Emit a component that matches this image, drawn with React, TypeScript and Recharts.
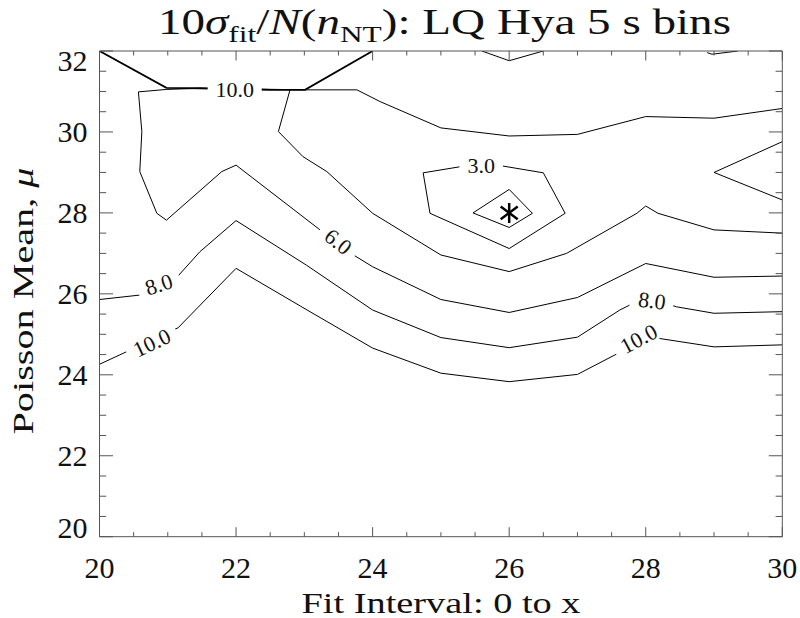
import { ComposedChart, Line, Scatter, XAxis, YAxis } from 'recharts';

// tick values (0.5 minor steps, labels on the even numbers)
const xTicks = [20, 20.5, 21, 21.5, 22, 22.5, 23, 23.5, 24, 24.5, 25, 25.5, 26, 26.5, 27, 27.5, 28, 28.5, 29, 29.5, 30];
const yTicks = [20, 20.5, 21, 21.5, 22, 22.5, 23, 23.5, 24, 24.5, 25, 25.5, 26, 26.5, 27, 27.5, 28, 28.5, 29, 29.5, 30, 30.5, 31, 31.5, 32];
const xMajorTicks = [20, 22, 24, 26, 28, 30];
const yMajorTicks = [20, 22, 24, 26, 28, 30, 32];

// contour polylines (x = fit interval, y = Poisson mean)
const contour10Low = [
  { x: 20, y: 24.26 }, { x: 21.15, y: 25.16 }, { x: 22, y: 26.63 }, { x: 22.94, y: 25.7 },
  { x: 24, y: 24.66 }, { x: 25, y: 24.04 }, { x: 26, y: 23.83 }, { x: 27, y: 24.01 },
  { x: 27.57, y: 24.51 }, { x: 28, y: 24.95 }, { x: 29, y: 24.69 }, { x: 30, y: 24.74 },
];
const contour8 = [
  { x: 20, y: 25.86 }, { x: 20.59, y: 25.97 }, { x: 21, y: 26.16 }, { x: 21.47, y: 27.04 },
  { x: 22, y: 27.81 }, { x: 23.03, y: 26.71 }, { x: 24, y: 25.6 }, { x: 25, y: 24.92 },
  { x: 26, y: 24.67 }, { x: 27, y: 24.93 }, { x: 27.62, y: 25.6 }, { x: 28, y: 25.92 },
  { x: 28.45, y: 25.68 }, { x: 29, y: 25.52 }, { x: 30, y: 25.56 },
];
const contour6 = [
  { x: 30, y: 30.58 }, { x: 29, y: 30.34 }, { x: 28, y: 30.38 }, { x: 27, y: 29.94 },
  { x: 26, y: 29.9 }, { x: 25, y: 30.1 }, { x: 24.11, y: 30.75 }, { x: 23.77, y: 31.04 },
  { x: 23, y: 31.04 }, { x: 21.47, y: 31.08 }, { x: 20.98, y: 31.05 }, { x: 20.57, y: 30.99 },
  { x: 20.62, y: 30.01 }, { x: 20.59, y: 29.02 }, { x: 20.84, y: 27.99 }, { x: 20.98, y: 27.82 },
  { x: 21.79, y: 29.02 }, { x: 22, y: 29.18 }, { x: 23.23, y: 27.58 }, { x: 23.72, y: 26.96 },
  { x: 24, y: 26.67 }, { x: 25, y: 25.86 }, { x: 26, y: 25.54 }, { x: 27, y: 25.91 },
  { x: 28, y: 26.75 }, { x: 29, y: 26.41 }, { x: 30, y: 26.44 },
];
const contour4 = [
  { x: 22.79, y: 31.04 }, { x: 22.62, y: 30.01 }, { x: 22.98, y: 29.39 }, { x: 23.33, y: 29.02 },
  { x: 24, y: 27.99 }, { x: 25, y: 26.96 }, { x: 26, y: 26.55 }, { x: 26.84, y: 27.0 },
  { x: 27.87, y: 27.99 }, { x: 28, y: 28.17 }, { x: 28.18, y: 27.99 }, { x: 29, y: 27.58 },
  { x: 30, y: 27.5 },
];
const contour3 = [
  { x: 24.74, y: 28.99 }, { x: 25.28, y: 29.14 }, { x: 25.9, y: 29.16 }, { x: 26.5, y: 28.99 },
  { x: 26.82, y: 27.99 }, { x: 26, y: 27.12 }, { x: 24.84, y: 27.99 }, { x: 24.74, y: 28.99 },
];
const contourInner = [
  { x: 26, y: 28.58 }, { x: 26.34, y: 27.99 }, { x: 26, y: 27.64 }, { x: 25.47, y: 28 }, { x: 26, y: 28.58 },
];
const contourRightV = [{ x: 30, y: 29.76 }, { x: 29, y: 29 }, { x: 30, y: 28.32 }];
const contourTopV = [{ x: 25.6, y: 32 }, { x: 26, y: 31.76 }, { x: 26.5, y: 32 }];
const contourTopRight = [{ x: 28.9, y: 31.96 }, { x: 28.97, y: 31.92 }, { x: 29.35, y: 32 }];
const contour10Top = [
  { x: 20, y: 32 }, { x: 20.98, y: 31.09 }, { x: 21.47, y: 31.08 }, { x: 22.5, y: 31.04 },
  { x: 23.01, y: 31.04 }, { x: 24, y: 32 },
];

const contourLabels = [
  { x: 21.98, y: 31.04, text: '10.0' },
  { x: 25.59, y: 29.16, text: '3.0' },
  { x: 23.49, y: 27.28, text: '6.0' },
  { x: 20.87, y: 26.22, text: '8.0' },
  { x: 20.77, y: 24.78, text: '10.0' },
  { x: 28.09, y: 25.82, text: '8.0' },
  { x: 27.9, y: 24.88, text: '10.0' },
];
const labelAngles = [0, 0, 38, -18, -25, 7, -28];

const bestFit = [{ x: 26, y: 28 }];

const FONT = '"Liberation Serif", "Times New Roman", serif';
const AXIS = '#555';

function BottomTick({ x, y, payload }: any) {
  const major = xMajorTicks.includes(payload.value);
  return (
    <g>
      <line x1={x} x2={x} y1={y} y2={y - (major ? 9.5 : 4.5)} stroke={AXIS} />
      {major && (
        <text x={x} y={y + 41} textAnchor="middle" fontFamily={FONT} fontSize={30} fill="#111">
          {payload.value}
        </text>
      )}
    </g>
  );
}

function TopTick({ x, y, payload }: any) {
  const major = xMajorTicks.includes(payload.value);
  return <line x1={x} x2={x} y1={y} y2={y + (major ? 9.5 : 4.5)} stroke={AXIS} />;
}

function LeftTick({ x, y, payload }: any) {
  const major = yMajorTicks.includes(payload.value);
  // IDL nudges the end labels inside the frame
  const shift = payload.value === 20 ? -9 : payload.value === 32 ? 10 : 0;
  return (
    <g>
      <line x1={x} x2={x + (major ? 13.5 : 6.7)} y1={y} y2={y} stroke={AXIS} />
      {major && (
        <text x={x - 12} y={y + shift + 10} textAnchor="end" fontFamily={FONT} fontSize={30} fill="#111">
          {payload.value}
        </text>
      )}
    </g>
  );
}

function RightTick({ x, y, payload }: any) {
  const major = yMajorTicks.includes(payload.value);
  return <line x1={x} x2={x - (major ? 13.5 : 6.7)} y1={y} y2={y} stroke={AXIS} />;
}

function ContourLabel({ cx, cy, payload, index }: any) {
  const angle = labelAngles[index] ?? 0;
  const w = payload.text.length * 10.5 + 12;
  return (
    <g transform={`translate(${cx},${cy}) rotate(${angle})`}>
      <rect x={-w / 2} y={-9} width={w} height={18} fill="#fff" />
      <text x={0} y={7} textAnchor="middle" fontFamily={FONT} fontSize={22} fill="#111">
        {payload.text}
      </text>
    </g>
  );
}

function Asterisk({ cx, cy }: any) {
  const r = 10;
  const d = r * 0.85;
  return (
    <g stroke="#000" strokeWidth={2.5}>
      <line x1={cx} x2={cx} y1={cy - r} y2={cy + r} />
      <line x1={cx - d} x2={cx + d} y1={cy - d * 0.75} y2={cy + d * 0.75} />
      <line x1={cx - d} x2={cx + d} y1={cy + d * 0.75} y2={cy - d * 0.75} />
    </g>
  );
}

const contours = [
  { data: contour10Low, w: 1 },
  { data: contour8, w: 1 },
  { data: contour6, w: 1 },
  { data: contour4, w: 1 },
  { data: contour3, w: 1 },
  { data: contourInner, w: 1 },
  { data: contourRightV, w: 1 },
  { data: contourTopV, w: 1 },
  { data: contourTopRight, w: 1 },
  { data: contour10Top, w: 1.8 },
];

export default function App() {
  return (
    <div style={{ position: 'absolute', left: 0, top: 0, width: 800, height: 618, background: '#fff' }}>
      <ComposedChart
        width={800}
        height={618}
        margin={{ top: 50, right: 16.7, bottom: 80.3, left: 98.5 }}
      >
        <XAxis
          dataKey="x"
          type="number"
          domain={[20, 30]}
          allowDataOverflow
          ticks={xTicks}
          interval={0}
          height={1}
          tickSize={0}
          tickMargin={0}
          tickLine={false}
          axisLine={{ stroke: AXIS }}
          tick={(p: any) => <BottomTick {...p} />}
        />
        <XAxis
          xAxisId="top"
          orientation="top"
          dataKey="x"
          type="number"
          domain={[20, 30]}
          allowDataOverflow
          ticks={xTicks}
          interval={0}
          height={1}
          tickSize={0}
          tickMargin={0}
          tickLine={false}
          axisLine={{ stroke: AXIS }}
          tick={(p: any) => <TopTick {...p} />}
        />
        <YAxis
          dataKey="y"
          type="number"
          domain={[20, 32]}
          allowDataOverflow
          ticks={yTicks}
          interval={0}
          width={1}
          tickSize={0}
          tickMargin={0}
          tickLine={false}
          axisLine={{ stroke: AXIS }}
          tick={(p: any) => <LeftTick {...p} />}
        />
        <YAxis
          yAxisId="right"
          orientation="right"
          dataKey="y"
          type="number"
          domain={[20, 32]}
          allowDataOverflow
          ticks={yTicks}
          interval={0}
          width={1}
          tickSize={0}
          tickMargin={0}
          tickLine={false}
          axisLine={{ stroke: AXIS }}
          tick={(p: any) => <RightTick {...p} />}
        />
        {contours.map((c, i) => (
          <Line
            key={i}
            data={c.data}
            dataKey="y"
            type="linear"
            stroke="#000"
            strokeWidth={c.w}
            dot={false}
            activeDot={false}
            isAnimationActive={false}
          />
        ))}
        <Scatter data={contourLabels} dataKey="y" shape={(p: any) => <ContourLabel {...p} />} isAnimationActive={false} />
        <Scatter data={bestFit} dataKey="y" shape={(p: any) => <Asterisk {...p} />} isAnimationActive={false} />
      </ComposedChart>
      <svg width={800} height={618} style={{ position: 'absolute', left: 0, top: 0, pointerEvents: 'none' }}>
        <text
          x={444.5}
          y={34}
          textAnchor="middle"
          fontFamily={FONT}
          fontSize={36}
          fill="#111"
          textLength={573}
          lengthAdjust="spacingAndGlyphs"
        >
          10<tspan fontStyle="italic">σ</tspan>
          <tspan fontSize={24} dy={8}>fit</tspan>
          <tspan dy={-8}>/</tspan>
          <tspan fontStyle="italic">N</tspan>(<tspan fontStyle="italic">n</tspan>
          <tspan fontSize={24} dy={8}>NT</tspan>
          <tspan dy={-8}>): LQ Hya 5 s bins</tspan>
        </text>
        <text
          x={441}
          y={613}
          textAnchor="middle"
          fontFamily={FONT}
          fontSize={29}
          fill="#111"
          textLength={279}
          lengthAdjust="spacingAndGlyphs"
        >
          Fit Interval: 0 to x
        </text>
        <text
          transform="translate(33,301) rotate(-90)"
          textAnchor="middle"
          fontFamily={FONT}
          fontSize={29}
          fill="#111"
          textLength={267}
          lengthAdjust="spacingAndGlyphs"
        >
          Poisson Mean, <tspan fontStyle="italic">μ</tspan>
        </text>
      </svg>
    </div>
  );
}
